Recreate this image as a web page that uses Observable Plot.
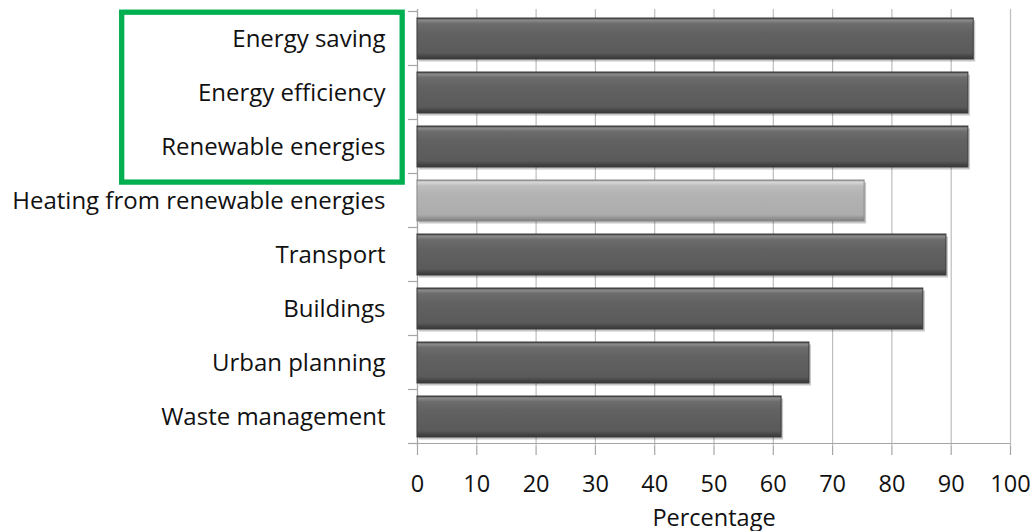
<!DOCTYPE html>
<html><head><meta charset="utf-8">
<script src="https://cdn.jsdelivr.net/npm/d3@7"></script>
<script src="https://cdn.jsdelivr.net/npm/@observablehq/plot@0.6"></script>
<style>html,body{margin:0;padding:0;background:#fff}svg{display:block}</style>
</head><body><div id="chart"></div>
<script>
const categories = ["Energy saving","Energy efficiency","Renewable energies","Heating from renewable energies","Transport","Buildings","Urban planning","Waste management"];
const values = [93.8, 92.9, 92.9, 75.4, 89.2, 85.3, 66.1, 61.4];
const shades = ["dark","dark","dark","light","dark","dark","dark","dark"];
const xTicks = [0,10,20,30,40,50,60,70,80,90,100];
const highlightFirst = "Energy saving";
const highlightLast = "Renewable energies";
const highlightX = [-49.8, -2.5];

const data = categories.map((c, i) => ({category: c, value: values[i], shade: shades[i]}));
const FONT = "'Open Sans', Lato, sans-serif";

function defsMark() {
  const ns = "http://www.w3.org/2000/svg";
  const defs = document.createElementNS(ns, "defs");
  const grads = {
    darkBar: [[0,"#3e3e3e"],[0.05,"#8c8c8c"],[0.14,"#6c6c6c"],[0.35,"#626262"],[0.85,"#5a5a5a"],[1,"#363636"]],
    lightBar: [[0,"#8e8e8e"],[0.05,"#d9d9d9"],[0.14,"#bdbdbd"],[0.35,"#b3b3b3"],[0.85,"#acacac"],[1,"#7e7e7e"]]
  };
  for (const [id, stops] of Object.entries(grads)) {
    const g = document.createElementNS(ns, "linearGradient");
    g.setAttribute("id", id); g.setAttribute("x1", "0"); g.setAttribute("y1", "0"); g.setAttribute("x2", "0"); g.setAttribute("y2", "1");
    for (const [o, c] of stops) {
      const s = document.createElementNS(ns, "stop");
      s.setAttribute("offset", o); s.setAttribute("stop-color", c);
      g.appendChild(s);
    }
    defs.appendChild(g);
  }
  return defs;
}

function decorMark(index, scales) {
  const ns = "http://www.w3.org/2000/svg";
  const y = scales.y, x = scales.x;
  const step = y.step(), bw = y.bandwidth();
  const off = (step - bw) / 2;
  const g = document.createElementNS(ns, "g");
  const line = (x1, x2, y1, y2) => {
    const l = document.createElementNS(ns, "line");
    l.setAttribute("x1", x1); l.setAttribute("x2", x2);
    l.setAttribute("y1", y1); l.setAttribute("y2", y2);
    l.setAttribute("stroke", "#a6a6a6"); l.setAttribute("stroke-width", 1.2);
    g.appendChild(l);
  };
  // y tick marks at category boundaries
  const bounds = categories.map(c => y(c) - off).concat([y(categories[categories.length - 1]) + bw + off]);
  for (const b of bounds) line(x(0) - 9, x(0), b, b);
  // bottom axis line
  const yb = bounds[bounds.length - 1];
  line(x(0) - 9, x(100), yb, yb);
  // highlight box
  const r = document.createElementNS(ns, "rect");
  const top = y(highlightFirst) - off + 0.7;
  const bottom = y(highlightLast) + bw + off + 8.6;
  r.setAttribute("x", x(highlightX[0])); r.setAttribute("width", x(highlightX[1]) - x(highlightX[0]));
  r.setAttribute("y", top); r.setAttribute("height", bottom - top);
  r.setAttribute("fill", "none"); r.setAttribute("stroke", "#00b050"); r.setAttribute("stroke-width", 5.3);
  g.appendChild(r);
  return g;
}

const plot = Plot.plot({
  width: 1033,
  height: 531,
  marginTop: 9,
  marginBottom: 85,
  marginLeft: 417,
  marginRight: 23,
  style: {fontFamily: FONT, background: "#fff", color: "#111"},
  x: {domain: [0, 100], ticks: xTicks},
  y: {domain: categories, paddingInner: 0.25, paddingOuter: 0.125},
  marks: [
    defsMark,
    Plot.gridX(xTicks, {stroke: "#bdbdbd", strokeOpacity: 1, strokeWidth: 1.2}),
    Plot.ruleX([0], {stroke: "#a6a6a6", strokeWidth: 1.2}),
    Plot.barX(data, {x: "value", y: "category", fill: "#000", fillOpacity: 0.22, dx: 2, dy: 2.5}),
    Plot.barX(data, {x: "value", y: "category", fill: d => d.shade === "dark" ? "url(#darkBar)" : "url(#lightBar)", stroke: d => d.shade === "dark" ? "#3c3c3c" : "#8a8a8a", strokeWidth: 1}),
    Plot.axisX(xTicks, {tickSize: 9, tickPadding: 20, fontSize: 23.5, stroke: "#a6a6a6", strokeWidth: 1.2, fill: "#111", label: "Percentage", labelAnchor: "center", labelArrow: "none", labelOffset: 79}),
    Plot.axisY({tickSize: 0, tickPadding: 32, fontSize: 24, fill: "#111", label: null}),
    decorMark
  ]
});
document.getElementById("chart").appendChild(plot);
</script>
</body></html>
